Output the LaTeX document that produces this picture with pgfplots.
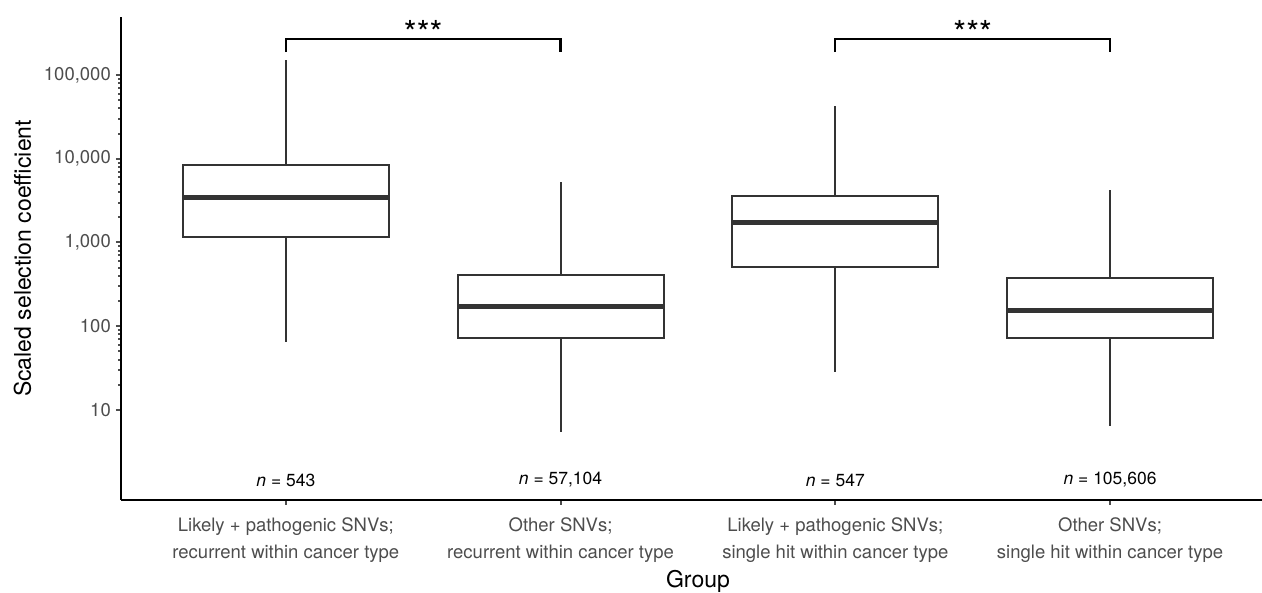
\documentclass[border=0pt]{standalone}
\usepackage{fontspec}
\setmainfont{TeX Gyre Heros}
\usepackage{pgfplots}
\pgfplotsset{compat=1.18}
\definecolor{tickgray}{HTML}{4D4D4D}
\definecolor{boxgray}{HTML}{333333}
\begin{document}
\begin{tikzpicture}[x=1pt,y=1pt]
\path[use as bounding box] (0,0) rectangle (1262,593);
\begin{axis}[
  at={(121pt,93pt)}, anchor=south west,
  scale only axis, width=1141pt, height=483pt,
  ymode=log, ymin=0.842, ymax=492600,
  xmin=0.4, xmax=4.553,
  clip=false,
  axis x line*=bottom, axis y line*=left,
  axis line style={line width=2.2pt, black, -},
  xtick={1,2,3,4},
  xticklabels={{Likely + pathogenic SNVs;\\recurrent within cancer type},
               {Other SNVs;\\recurrent within cancer type},
               {Likely + pathogenic SNVs;\\single hit within cancer type},
               {Other SNVs;\\single hit within cancer type}},
  ytick={10,100,1000,10000,100000},
  yticklabels={10,100,{1,000},{10,000},{100,000}},
  minor ytick={},
  tick align=outside,
  major tick length=5pt,
  tick style={line width=2pt, tickgray},
  /pgf/number format/assume math mode=true,
  xticklabel style={align=center, font=\fontsize{18.5}{27}\selectfont, text=tickgray, inner sep=0pt, anchor=north, yshift=-13pt},
  yticklabel style={font=\fontsize{18.5}{22}\selectfont, text=tickgray, inner sep=0pt, anchor=east, xshift=-5pt},
  xlabel={Group},
  xlabel style={at={(axis description cs:0.5057,0)}, anchor=base, yshift=-88pt, font=\fontsize{23}{27}\selectfont, text=black},
  ylabel={Scaled selection coefficient},
  ylabel style={at={(axis description cs:-0.0789,0.5)}, anchor=base, font=\fontsize{23}{27}\selectfont, text=black},
  bx/.style={draw=boxgray, line width=2pt, mark=none, solid},
]
% ---- group 1: whiskers, box, median
\addplot[bx] coordinates {(1,64.9) (1,1172)};
\addplot[bx] coordinates {(1,8410) (1,151000)};
\addplot[bx, fill=white] coordinates {(0.625,1172) (1.375,1172) (1.375,8410) (0.625,8410)} -- cycle;
\addplot[bx, line width=5pt] coordinates {(0.625,3400) (1.375,3400)};
% ---- group 2
\addplot[bx] coordinates {(2,5.51) (2,71.8)};
\addplot[bx] coordinates {(2,405) (2,5320)};
\addplot[bx, fill=white] coordinates {(1.625,71.8) (2.375,71.8) (2.375,405) (1.625,405)} -- cycle;
\addplot[bx, line width=5pt] coordinates {(1.625,171) (2.375,171)};
% ---- group 3
\addplot[bx] coordinates {(3,28.5) (3,509)};
\addplot[bx] coordinates {(3,3590) (3,42950)};
\addplot[bx, fill=white] coordinates {(2.625,509) (3.375,509) (3.375,3590) (2.625,3590)} -- cycle;
\addplot[bx, line width=5pt] coordinates {(2.625,1710) (3.375,1710)};
% ---- group 4
\addplot[bx] coordinates {(4,6.44) (4,73)};
\addplot[bx] coordinates {(4,374) (4,4240)};
\addplot[bx, fill=white] coordinates {(3.625,73) (4.375,73) (4.375,374) (3.625,374)} -- cycle;
\addplot[bx, line width=5pt] coordinates {(3.625,153.5) (4.375,153.5)};
% n labels
\node[font=\fontsize{17.5}{20}\selectfont] at (axis cs:1,1.46) {\textit{n} = 543};
\node[font=\fontsize{17.5}{20}\selectfont] at (axis cs:2,1.46) {\textit{n} = 57,104};
\node[font=\fontsize{17.5}{20}\selectfont] at (axis cs:3,1.46) {\textit{n} = 547};
\node[font=\fontsize{17.5}{20}\selectfont] at (axis cs:4,1.46) {\textit{n} = 105,606};
% significance brackets
\draw[line width=2.2pt, black] (axis cs:1,188000) -- (axis cs:1,269000) -- (axis cs:2,269000) -- (axis cs:2,188000);
\draw[line width=2.2pt, black] (axis cs:3,188000) -- (axis cs:3,269000) -- (axis cs:4,269000) -- (axis cs:4,188000);
\node[font=\fontsize{33}{33}\selectfont, anchor=base, inner sep=0pt, yshift=-6pt] at (axis cs:1.5,269000) {***};
\node[font=\fontsize{33}{33}\selectfont, anchor=base, inner sep=0pt, yshift=-6pt] at (axis cs:3.5,269000) {***};
\end{axis}
\end{tikzpicture}
\end{document}
